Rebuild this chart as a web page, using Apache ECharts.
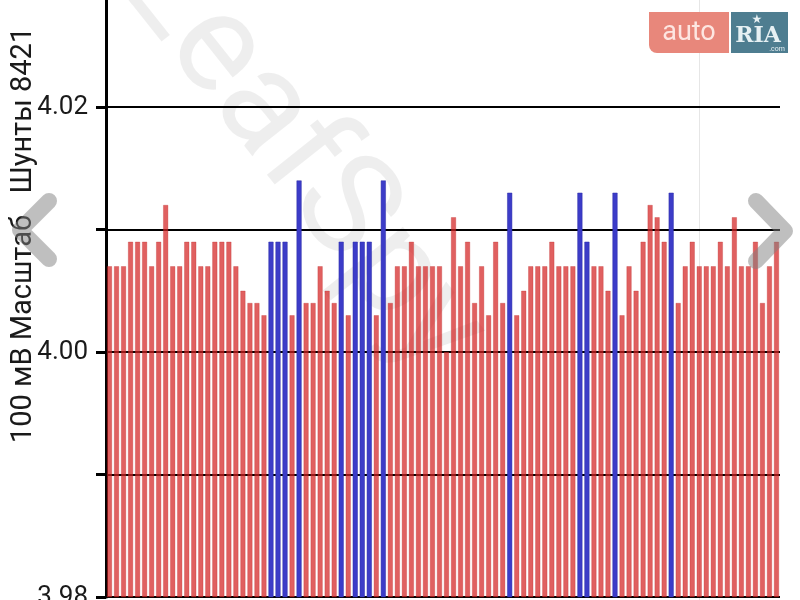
<!DOCTYPE html>
<html>
<head>
<meta charset="utf-8">
<title>LeafSpy cell voltages</title>
<script src="https://cdn.jsdelivr.net/npm/echarts@6/dist/echarts.min.js"></script>
<style>
  html, body { margin: 0; padding: 0; background: #fff; }
  #main { width: 800px; height: 600px; }
</style>
</head>
<body>
<div id="main"></div>
<script>
// cell voltages, V (96 cells)
var cellVolts = [
  4.007, 4.007, 4.007, 4.009, 4.009, 4.009, 4.007, 4.009, 4.012, 4.007, 4.007, 4.009,
  4.009, 4.007, 4.007, 4.009, 4.009, 4.009, 4.007, 4.005, 4.004, 4.004, 4.003,
  4.009, 4.009, 4.009, 4.003, 4.014, 4.004, 4.004, 4.007, 4.005, 4.004, 4.009, 4.003,
  4.009, 4.009, 4.009, 4.003, 4.014, 4.004, 4.007, 4.007, 4.009, 4.007, 4.007, 4.007, 4.007,
  4.000, 4.011, 4.007, 4.009, 4.004, 4.007, 4.003, 4.009, 4.004, 4.013, 4.003, 4.005,
  4.007, 4.007, 4.007, 4.009, 4.007, 4.007, 4.007, 4.013, 4.009, 4.007, 4.007,
  4.005, 4.013, 4.003, 4.007, 4.005, 4.009, 4.012, 4.011, 4.009, 4.013, 4.004, 4.007,
  4.009, 4.007, 4.007, 4.007, 4.009, 4.007, 4.011, 4.007, 4.007, 4.009, 4.004, 4.007, 4.009
];
// cells with shunt on (blue bars)
var shuntCells = [24, 25, 26, 28, 34, 36, 37, 38, 40, 58, 68, 69, 73, 81];
// y labels that are printed
var yLabels = ['3.98', '4.00', '4.02'];
var axisTitle = '100 мВ Масштаб   Шунты 8421';

var cells = cellVolts.map(function (v, i) { return String(i + 1); });

var barData = cellVolts.map(function (v, i) {
  if (shuntCells.indexOf(i + 1) >= 0) {
    return { value: v, itemStyle: { color: '#3c3cc8', borderColor: '#2e2ea8' } };
  }
  return v;
});

var chart = echarts.init(document.getElementById('main'));

var option = {
  animation: false,
  backgroundColor: '#fff',
  grid: { left: 106, right: 20, top: -15.5, bottom: 3, outerBoundsMode: 'none' },
  xAxis: {
    type: 'category',
    data: cells,
    axisLine: { show: false },
    axisTick: { show: false },
    axisLabel: { show: false },
    splitLine: { show: false }
  },
  yAxis: {
    type: 'value',
    min: 3.98,
    max: 4.03,
    interval: 0.01,
    axisLine: { show: true, lineStyle: { color: '#000', width: 3 } },
    axisTick: { show: true, length: 10, lineStyle: { color: '#000', width: 3 } },
    axisLabel: {
      margin: 18,
      fontFamily: 'Roboto',
      fontSize: 26,
      color: '#1a1a1a',
      formatter: function (v) {
        var s = v.toFixed(2);
        return yLabels.indexOf(s) >= 0 ? s : '';
      }
    },
    splitLine: { show: true, lineStyle: { color: '#000', width: 2 } }
  },
  series: [{
    type: 'bar',
    data: barData,
    barWidth: 5,
    itemStyle: { color: 'rgba(212,34,34,0.72)', borderColor: 'rgba(190,40,40,0.6)', borderWidth: 0.5 },
    z: 3
  }],
  graphic: [
    // faint vertical line from the screenshot
    { type: 'rect', z: -10, shape: { x: 699, y: 0, width: 1, height: 600 }, style: { fill: '#e6e6e6' } },
    // watermark
    {
      type: 'text', z: -5, x: 300, y: 160, rotation: -0.9,
      style: { text: 'LeafSpy', font: '140px Roboto', fill: 'rgba(0,0,0,0.065)', align: 'center', verticalAlign: 'middle' }
    },
    // axis title
    {
      type: 'text', x: 24, y: 235, rotation: Math.PI / 2, z: 10,
      style: { text: axisTitle, font: '29px Roboto', fill: '#1a1a1a', align: 'center', verticalAlign: 'middle' }
    },
    // navigation chevrons
    {
      type: 'polyline', z: 20,
      shape: { points: [[49, 201], [20, 230], [49, 259]] },
      style: { stroke: 'rgba(128,128,128,0.5)', lineWidth: 16, fill: null, lineJoin: 'round', lineCap: 'round' }
    },
    {
      type: 'polyline', z: 20,
      shape: { points: [[756, 201], [785, 231], [756, 261]] },
      style: { stroke: 'rgba(128,128,128,0.5)', lineWidth: 16, fill: null, lineJoin: 'round', lineCap: 'round' }
    },
    // auto.ria logo
    { type: 'rect', z: 20, shape: { x: 649, y: 12, width: 80, height: 41, r: [0, 0, 0, 8] }, style: { fill: '#e8877b' } },
    { type: 'rect', z: 20, shape: { x: 731, y: 12, width: 57, height: 41 }, style: { fill: '#4e7d90' } },
    { type: 'text', z: 21, x: 689, y: 33, style: { text: 'auto', font: '27px Roboto', fill: '#fde6e1', align: 'center', verticalAlign: 'middle' } },
    { type: 'text', z: 21, x: 758, y: 36, style: { text: 'RIA', font: 'bold 22px "DejaVu Serif"', fill: '#e6f0f3', align: 'center', verticalAlign: 'middle' } },
    { type: 'text', z: 21, x: 757, y: 20, style: { text: '★', font: '12px "DejaVu Sans"', fill: '#e6f0f3', align: 'center', verticalAlign: 'middle' } },
    { type: 'text', z: 21, x: 777, y: 49, style: { text: '.com', font: '7px Roboto', fill: '#e6f0f3', align: 'center', verticalAlign: 'middle' } }
  ]
};

chart.setOption(option);
</script>
</body>
</html>
